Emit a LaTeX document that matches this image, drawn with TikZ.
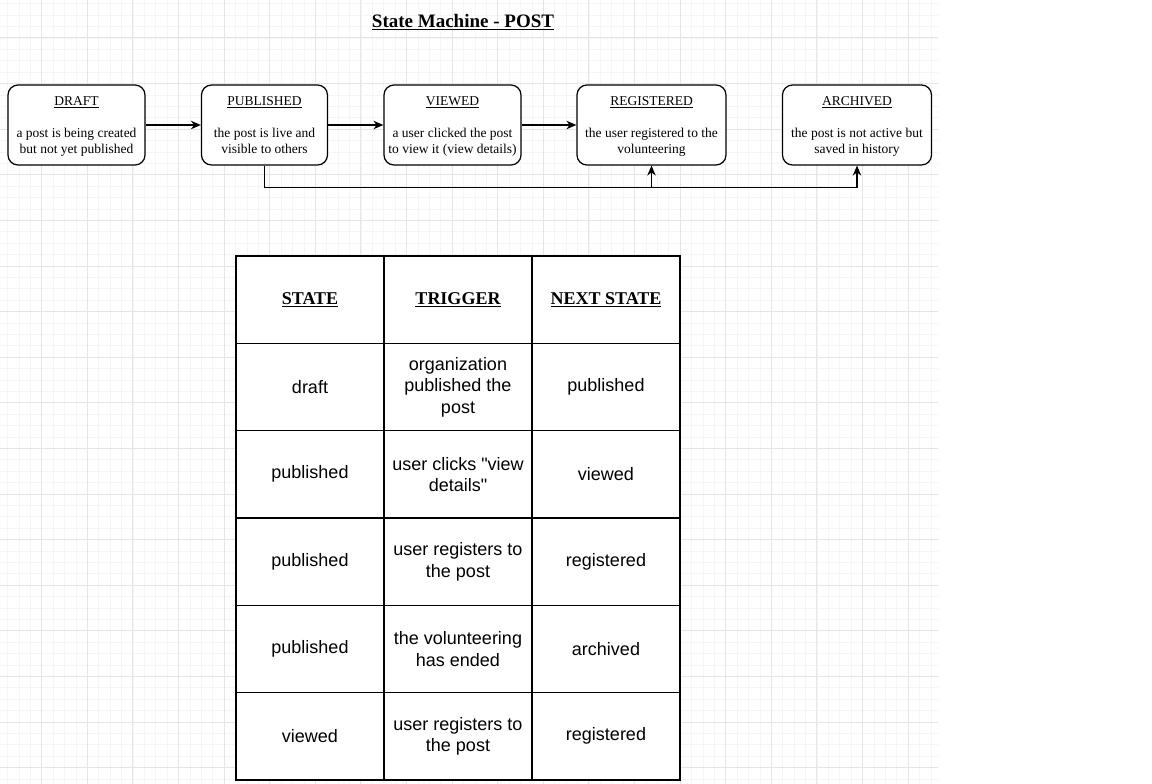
\documentclass[tikz,border=0pt]{standalone}
\usepackage{fontspec}
\setmainfont{Liberation Serif}
\newfontfamily\cellfont{Liberation Sans}
\usetikzlibrary{arrows.meta}

\newcommand{\toprow}{\rule{0pt}{13pt}}
\newcommand{\botrow}{\rule[-4pt]{0pt}{4pt}}

\tikzset{
  state/.style={draw, rounded corners=10pt, line width=1.2pt, fill=white,
    minimum height=80pt, inner sep=0pt, align=center,
    font=\fontsize{13.5}{16}\selectfont},
  cell/.style={draw, line width=1.2pt, minimum width=148pt,
    minimum height=87.33pt, inner sep=0pt, align=center,
    font=\cellfont\fontsize{18}{21.5}\selectfont},
  head/.style={cell, font=\bfseries\fontsize{18}{21}\selectfont},
  link/.style={->, line width=1.2pt},
}

\begin{document}
\begin{tikzpicture}[x=1pt, y=1pt, >={Stealth[length=10pt,width=8.5pt]}]
    \useasboundingbox (0,0) rectangle (1152,-784);
    \fill[white] (0,0) rectangle (1152,-784);
    \begin{scope}
	\clip (0,0) rectangle (938,-784);
	\draw[step=11.4pt, gray!8, line width=0.6pt, shift={(7.4,-3.7)}] (-20,-800) grid (950,20);
	\draw[step=45.6pt, gray!20, line width=0.8pt, shift={(41.6,-37.9)}] (-60,-840) grid (960,60);
    \end{scope}

    \node[font=\bfseries\fontsize{19}{22}\selectfont] (title) at (463,-22) {\underline{State Machine - POST}};

    \node[state, minimum width=137pt] (draft) at (76.5,-125)
	{\toprow\underline{DRAFT}\\[16pt]a post is being created\\but not yet published\botrow};
    \node[state, minimum width=126pt] (published) at (264.5,-125)
	{\toprow\underline{PUBLISHED}\\[16pt]the post is live and\\visible to others\botrow};
    \node[state, minimum width=137pt] (viewed) at (452.5,-125)
	{\toprow\underline{VIEWED}\\[16pt]a user clicked the post\\to view it (view details)\botrow};
    \node[state, minimum width=149pt] (registered) at (651.5,-125)
	{\toprow\underline{REGISTERED}\\[16pt]the user registered to the\\volunteering\botrow};
    \node[state, minimum width=149pt] (archived) at (857,-125)
	{\toprow\underline{ARCHIVED}\\[16pt]the post is not active but\\saved in history\botrow};

    \draw[link] (draft) -- (published);
    \draw[link] (published) -- (viewed);
    \draw[link] (viewed) -- (registered);
    \draw[link] (published.south) |- ([yshift=-22pt]archived.south) -- (archived.south);
    \draw[link] ([yshift=-22pt]registered.south) -- (registered.south);

    \fill[white] (236,-256) rectangle (680,-780);
    \node[head] (hstate) at (310,-299.67) {\underline{STATE}};
    \node[head] (htrigger) at (458,-299.67) {\underline{TRIGGER}};
    \node[head] (hnext) at (606,-299.67) {\underline{NEXT STATE}};

    \foreach \st/\tr/\nx [count=\i] in {
	draft/{organization\\published the\\post}/published,
	published/{user clicks "view\\details"}/viewed,
	published/{user registers to\\the post}/registered,
	published/{the volunteering\\has ended}/archived,
	viewed/{user registers to\\the post}/registered}
    {
	\node[cell] (state\i) at (310,{-299.67-87.33*\i}) {\st};
	\node[cell] (trigger\i) at (458,{-299.67-87.33*\i}) {\tr};
	\node[cell] (next\i) at (606,{-299.67-87.33*\i}) {\nx};
    }
\end{tikzpicture}
\end{document}
